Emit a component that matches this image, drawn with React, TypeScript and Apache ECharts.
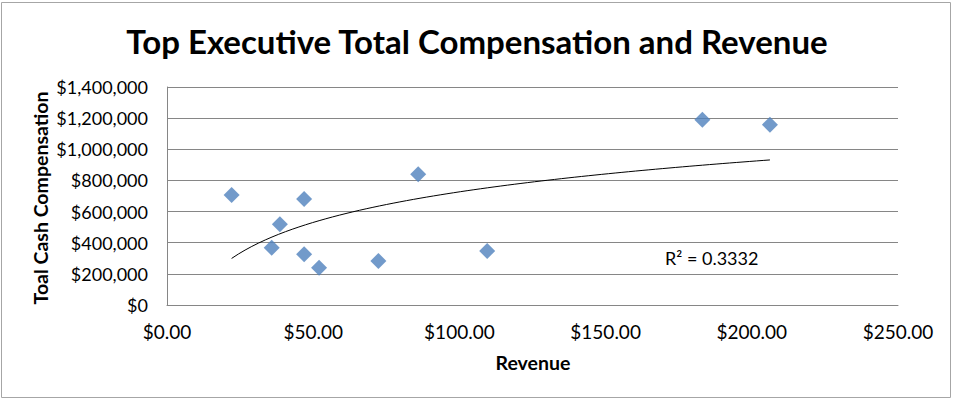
import React, { useEffect, useRef } from "react";
import * as echarts from "echarts";

const titleText = "Top Executive Total Compensation and Revenue";
const xAxisName = "Revenue";
const yAxisName = "Toal Cash Compensation";
const r2Label = "R² = 0.3332";

const revenue = [22.1, 46.9, 38.6, 35.8, 46.9, 52.0, 72.3, 85.9, 109.5, 183.1, 206.2];
const compensation = [707000, 680000, 519000, 368000, 326000, 240000, 283000, 840000, 347000, 1190000, 1158000];

function logFit(xs: number[], ys: number[]) {
  const n = xs.length;
  const ls = xs.map((x) => Math.log(x));
  const mL = ls.reduce((a, b) => a + b, 0) / n;
  const mY = ys.reduce((a, b) => a + b, 0) / n;
  let sxy = 0;
  let sxx = 0;
  for (let i = 0; i < n; i++) {
    sxy += (ls[i] - mL) * (ys[i] - mY);
    sxx += (ls[i] - mL) * (ls[i] - mL);
  }
  const b = sxy / sxx;
  const a = mY - b * mL;
  return { a, b };
}

export default function App() {
  const ref = useRef<HTMLDivElement>(null);
  useEffect(() => {
    document.body.style.margin = "0";
    if (!ref.current) return;
    const chart = echarts.init(ref.current, null, { renderer: "svg" });
    const { a, b } = logFit(revenue, compensation);
    const xmin = Math.min(...revenue);
    const xmax = Math.max(...revenue);
    const trend: number[][] = [];
    const steps = 80;
    for (let i = 0; i <= steps; i++) {
      const x = xmin + ((xmax - xmin) * i) / steps;
      trend.push([x, a + b * Math.log(x)]);
    }
    const font = "Lato, 'Noto Sans', sans-serif";
    chart.setOption({
      animation: false,
      backgroundColor: "#ffffff",
      grid: { left: 167, top: 87, width: 731, height: 218, containLabel: false },
      xAxis: {
        type: "value",
        min: 0,
        max: 250,
        interval: 50,
        axisLine: { show: true, lineStyle: { color: "#868686", width: 1 } },
        axisTick: { show: false },
        splitLine: { show: false },
        axisLabel: {
          color: "#000",
          fontFamily: font,
          fontSize: 19,
          margin: 17,
          formatter: (v: number) => "$" + v.toFixed(2),
        },
      },
      yAxis: {
        type: "value",
        min: 0,
        max: 1400000,
        interval: 200000,
        axisLine: { show: true, lineStyle: { color: "#868686", width: 1 } },
        axisTick: { show: false },
        splitLine: { show: true, lineStyle: { color: "#868686", width: 1 } },
        axisLabel: {
          color: "#000",
          fontFamily: font,
          fontSize: 18,
          margin: 19,
          formatter: (v: number) => "$" + v.toLocaleString("en-US"),
        },
      },
      series: [
        {
          type: "scatter",
          data: revenue.map((x, i) => [x, compensation[i]]),
          symbol: "diamond",
          symbolSize: 16,
          itemStyle: { color: "#4F81BD" },
          z: 3,
        },
        {
          type: "line",
          data: trend,
          showSymbol: false,
          smooth: false,
          lineStyle: { color: "#000", width: 1 },
          z: 2,
        },
      ],
      graphic: [
        {
          type: "rect",
          shape: { x: 1.5, y: 2.5, width: 949, height: 395 },
          style: { fill: "none", stroke: "#a6a6a6", lineWidth: 1 },
          silent: true,
        },
        {
          type: "text",
          x: 477,
          y: 41,
          style: {
            text: titleText,
            font: "bold 33px " + font,
            fill: "#000",
            align: "center",
            verticalAlign: "middle",
          },
        },
        {
          type: "text",
          x: 40,
          y: 198,
          rotation: Math.PI / 2,
          style: {
            text: yAxisName,
            font: "bold 19.5px " + font,
            fill: "#000",
            align: "center",
            verticalAlign: "middle",
          },
        },
        {
          type: "text",
          x: 533,
          y: 362,
          style: {
            text: xAxisName,
            font: "bold 19.5px " + font,
            fill: "#000",
            align: "center",
            verticalAlign: "middle",
          },
        },
        {
          type: "text",
          x: 665,
          y: 258,
          style: {
            text: r2Label,
            font: "18px " + font,
            fill: "#000",
            align: "left",
            verticalAlign: "middle",
          },
        },
      ],
    });
    return () => chart.dispose();
  }, []);
  return <div ref={ref} style={{ width: 955, height: 399 }} />;
}
